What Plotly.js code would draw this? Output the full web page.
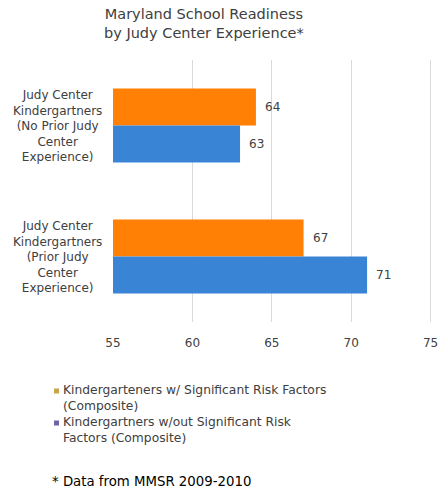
<!DOCTYPE html>
<html><head><meta charset="utf-8">
<script src="https://cdn.plot.ly/plotly-3.0.1.min.js"></script>
<style>html,body{margin:0;padding:0;background:#fff}#chart{width:438px;height:491px}</style>
</head><body><div id="chart"></div>
<script>
const categories = ["No Prior", "Prior"];
const categoryLabels = [
  "Judy Center<br>Kindergartners<br>(No Prior Judy<br>Center<br>Experience)",
  "Judy Center<br>Kindergartners<br>(Prior Judy<br>Center<br>Experience)"
];
const seriesNames = [
  "Kindergarteners w/ Significant Risk Factors<br>(Composite)",
  "Kindergartners w/out Significant Risk<br>Factors (Composite)"
];
const withRisk = [64, 67];
const withoutRisk = [63, 71];
const xTicks = [55, 60, 65, 70, 75];
const titleText = "Maryland School Readiness<br>by Judy Center Experience*";
const footnote = "* Data from MMSR 2009-2010";

const font = "DejaVu Sans, Verdana, sans-serif";
const barColors = ["#FF8005", "#3A84D6"];
const legendColors = ["#C9A24A", "#6E63A8"];
const series = [withRisk, withoutRisk];

const traces = series.map((vals, i) => ({
  type: "bar", orientation: "h", y: categories, x: vals, base: 0,
  name: seriesNames[i],
  marker: {color: barColors[i]},
  showlegend: false, hoverinfo: "x"
}));

const annotations = categories.map((c, i) => ({
  xref: "paper", yref: "y", x: -0.028, y: c, xanchor: "right", yanchor: "middle",
  text: categoryLabels[i], showarrow: false, align: "center",
  font: {family: font, size: 12, color: "#404040"}
}));

// value labels, positioned via the axes
series.forEach((vals, i) => {
  vals.forEach((v, j) => {
    annotations.push({
      xref: "x", yref: "y", x: v, y: categories[j], xanchor: "left", yanchor: "middle",
      xshift: 7, yshift: i === 0 ? 18.5 : -18.5,
      text: String(v), showarrow: false,
      font: {family: font, size: 12, color: "#404040"}
    });
  });
});

// title
annotations.push({
  xref: "paper", yref: "paper", x: (204 - 113) / 320, y: (322 - 4) / 262,
  xanchor: "center", yanchor: "top", text: titleText, showarrow: false, align: "center",
  font: {family: font, size: 14.5, color: "#404040"}
});

const shapes = [];
seriesNames.forEach((n, i) => {
  const mid = 398 + i * 32;
  annotations.push({
    xref: "paper", yref: "paper", x: (61 - 113) / 320, y: (322 - mid) / 262,
    xanchor: "left", yanchor: "middle", text: n, showarrow: false, align: "left",
    font: {family: font, size: 12.3, color: "#404040"}
  });
  const yc = 391 + i * 32;
  shapes.push({
    type: "rect", xref: "paper", yref: "paper",
    x0: (54 - 113) / 320, x1: (59 - 113) / 320,
    y0: (322 - yc - 2.5) / 262, y1: (322 - yc + 2.5) / 262,
    fillcolor: legendColors[i], line: {width: 0}
  });
});
annotations.push({
  xref: "paper", yref: "paper", x: (50 - 113) / 320, y: (322 - 481) / 262,
  xanchor: "left", yanchor: "middle", text: footnote, showarrow: false,
  font: {family: font, size: 13.3, color: "#000"}
});

const layout = {
  width: 438, height: 491,
  margin: {l: 113, r: 5, t: 60, b: 169, pad: 0},
  paper_bgcolor: "#fff", plot_bgcolor: "#fff",
  barmode: "group", bargap: 0.435, bargroupgap: 0,
  showlegend: false,
  xaxis: {range: [55, 75.15], tickvals: xTicks, ticktext: xTicks.map(String),
          showgrid: true, gridcolor: "#D9D9D9", gridwidth: 1, zeroline: false,
          showline: false, ticks: "", ticklabelstandoff: 12, ticklabeloverflow: "allow",
          tickfont: {family: font, size: 12, color: "#404040"}, fixedrange: true},
  yaxis: {type: "category", autorange: "reversed", showticklabels: false,
          showgrid: false, zeroline: false, showline: false, ticks: "", fixedrange: true},
  annotations: annotations, shapes: shapes
};
Plotly.newPlot("chart", traces, layout, {displayModeBar: false, staticPlot: true});
</script></body></html>
